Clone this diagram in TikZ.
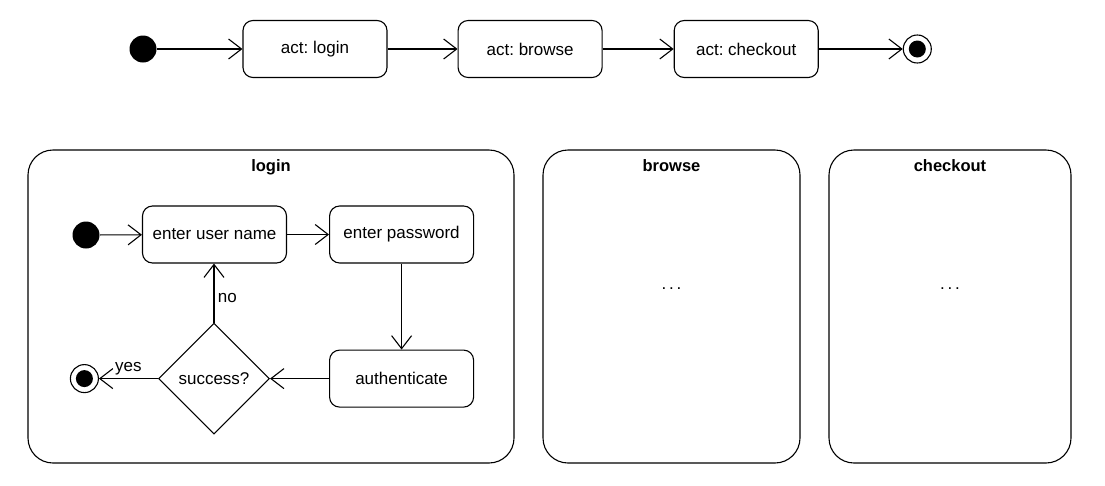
\documentclass[tikz,border=0pt]{standalone}
\usepackage{fontspec}
\setmainfont{Liberation Sans}
\usetikzlibrary{positioning}
\usetikzlibrary{arrows.meta}
\usetikzlibrary{shapes.geometric}
\frenchspacing

\begin{document}
\begin{tikzpicture}[x=1pt,y=-1pt,line width=1.1pt,
    every node/.style={font=\fontsize{17}{20}\selectfont, align=center},
    >={Straight Barb[length=13pt,width=20pt]},
    act/.style={draw,rounded corners=10pt,minimum width=144pt,minimum height=57pt,inner sep=0pt},
    frame/.style={draw,rounded corners=25pt,minimum height=313pt,inner sep=0pt},
    start/.style={circle,fill=black,minimum size=27pt,inner sep=0pt},
    stop/.style={circle,draw,minimum size=28pt,inner sep=0pt,
        path picture={\fill (path picture bounding box.center) circle (8.5pt);}},
    decision/.style={diamond,draw,minimum width=111pt,minimum height=111pt,inner sep=0pt},
    title/.style={font=\fontsize{16.5}{20}\selectfont\bfseries,anchor=base}]
\useasboundingbox (0,0) rectangle (1105,485);
% top level flow
\node[start] (start) at (143,49) {};
\node[act] (actlogin) at (315,49) {act: login};
\node[act,right=70pt of actlogin] (actbrowse) {act: browse};
\node[act,right=71pt of actbrowse] (actcheckout) {act: checkout};
\node[stop,right=84pt of actcheckout] (stop) {};
\draw [->] (start) -- (actlogin);
\draw [->] (actlogin) -- (actbrowse);
\draw [->] (actbrowse) -- (actcheckout);
\draw [->] (actcheckout) -- (stop);
% activity frames
\node[frame,minimum width=486pt] (login) at (271,306.5) {};
\node[frame,minimum width=257pt] (browse) at (671.5,306.5) {};
\node[frame,minimum width=242pt] (checkout) at (950,306.5) {};
\node[title] (logintitle) at ([yshift=-22pt]login.north) {login};
\node[title] (browsetitle) at ([yshift=-22pt]browse.north) {browse};
\node[title] (checkouttitle) at ([yshift=-22pt]checkout.north) {checkout};
\node[anchor=base] (browsedots) at ([yshift=-140pt]browse.north) {.\,.\,.};
\node[anchor=base] (checkoutdots) at ([yshift=-140pt]checkout.north) {.\,.\,.};
% login activity
\node[start] (init) at (86,235) {};
\node[act] (user) at (214.5,234.5) {enter user name};
\node[act,right=42pt of user] (pass) {enter password};
\node[act,below=86pt of pass] (auth) {authenticate};
\node[decision,left=59pt of auth] (success) {success?};
\node[stop,left=59pt of success] (done) {};
\draw [->] (init) -- (user);
\draw [->] (user) -- (pass);
\draw [->] (pass) -- (auth);
\draw [->] (auth) -- (success);
\draw [->] (success.north) -- node[right,pos=0.42] (no) {no} (success.north |- user.south);
\draw [->] (success) -- node[above] (yes) {yes} (done);
\end{tikzpicture}
\end{document}
